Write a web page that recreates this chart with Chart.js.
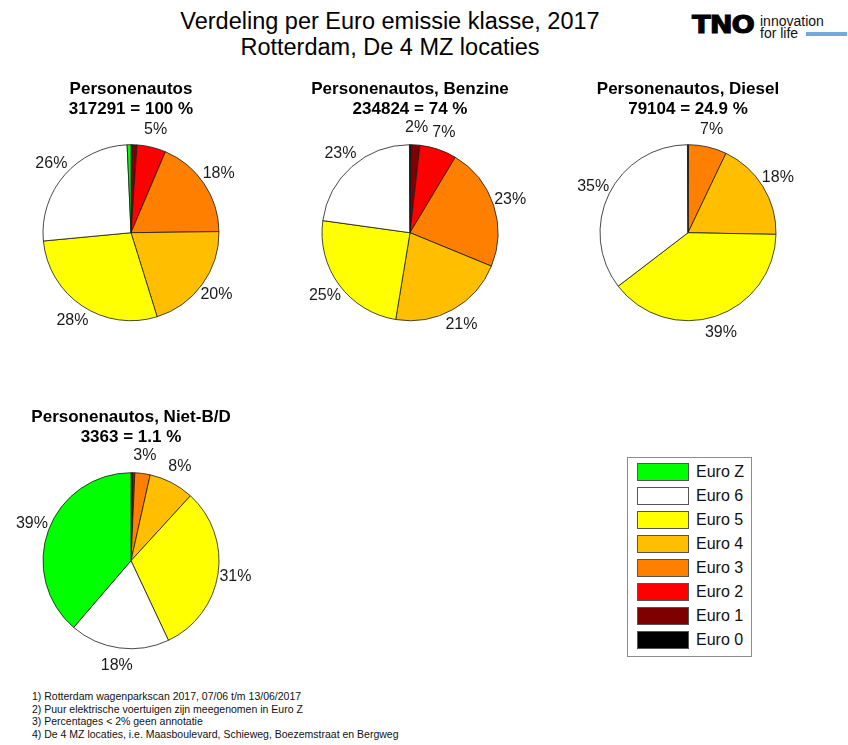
<!DOCTYPE html>
<html><head><meta charset="utf-8">
<script src="https://cdn.jsdelivr.net/npm/chart.js@4"></script>
<style>
body{margin:0;background:#fff;width:848px;height:745px;overflow:hidden;position:relative;font-family:"Liberation Sans",Arial,sans-serif;color:#000;}
.abs{position:absolute;}
canvas{display:block;}
#legend{left:627px;top:457px;width:123px;height:198px;border:1px solid #8c8c8c;background:#fff;}
.row{position:absolute;left:9px;height:18px;}
.sw{position:absolute;left:0;top:0;width:50px;height:16px;border:1px solid #555;}
.lt{position:absolute;left:59px;top:-1px;font-size:16px;line-height:20px;white-space:nowrap;color:#111;}
#notes{left:32px;top:690px;font-size:10.5px;line-height:12.5px;color:#111;white-space:nowrap;}
</style></head><body>
<div class="abs" style="left:0;width:780px;top:9px;text-align:center;font-size:23.5px;line-height:25.5px;white-space:nowrap">Verdeling per Euro emissie klasse, 2017<br>Rotterdam, De 4 MZ locaties</div>

<div class="abs" style="left:692px;top:9.5px;font-family:'DejaVu Sans',sans-serif;font-weight:bold;font-size:25px;letter-spacing:-1px;line-height:30px;-webkit-text-stroke:1px #000;transform:scaleX(1.1);transform-origin:0 0;">TNO</div>
<div class="abs" style="left:760px;top:14.5px;font-size:14px;line-height:12px;color:#111;white-space:nowrap">innovation<br>for life</div>
<div class="abs" style="left:806px;top:32px;width:41px;height:4px;background:#72a9dc"></div>

<div class="abs" style="left:0;top:78px"><canvas id="c0" width="262" height="269"></canvas></div>
<div class="abs" style="left:279px;top:78px"><canvas id="c1" width="262" height="269"></canvas></div>
<div class="abs" style="left:557px;top:78px"><canvas id="c2" width="262" height="269"></canvas></div>
<div class="abs" style="left:0;top:406px"><canvas id="c3" width="262" height="269"></canvas></div>

<div id="legend" class="abs"></div>
<div id="notes" class="abs"></div>

<script>
const categories = ['Euro 0','Euro 1','Euro 2','Euro 3','Euro 4','Euro 5','Euro 6','Euro Z'];
const colors = ['#000000','#7f0000','#ff0000','#ff8000','#ffbf00','#ffff00','#ffffff','#00ff00'];
const allCars = [0.2, 0.9, 5.3, 18.4, 20.4, 28.3, 25.8, 0.7];
const benzine = [0.2, 1.6, 6.8, 22.6, 21.4, 24.6, 22.7, 0.1];
const diesel  = [0.0, 0.0, 0.1, 7.0, 18.2, 39.3, 35.3, 0.1];
const nietBD  = [0.2, 0.2, 0.3, 2.8, 8.3, 31.2, 18.3, 38.7];
const panelNames = ['Personenautos','Personenautos, Benzine','Personenautos, Diesel','Personenautos, Niet-B/D'];
const panelCounts = ['317291','234824','79104','3363'];
const panelShares = ['100','74','24.9','1.1'];
const notes = [
  '1) Rotterdam wagenparkscan 2017, 07/06 t/m 13/06/2017',
  '2) Puur elektrische voertuigen zijn meegenomen in Euro Z',
  '3) Percentages < 2% geen annotatie',
  '4) De 4 MZ locaties, i.e. Maasboulevard, Schieweg, Boezemstraat en Bergweg'
];

const FONT = '"Liberation Sans", Arial, sans-serif';

const pctLabels = {
  id: 'pctLabels',
  afterDatasetsDraw(chart) {
    const ctx = chart.ctx;
    const ds = chart.data.datasets[0];
    const total = ds.data.reduce((a, b) => a + b, 0);
    const meta = chart.getDatasetMeta(0);
    ctx.save();
    ctx.font = '16px ' + FONT;
    ctx.fillStyle = '#1a1a1a';
    ctx.textAlign = 'center';
    ctx.textBaseline = 'middle';
    meta.data.forEach((arc, i) => {
      const r = Math.round(ds.data[i] / total * 100);
      if (r < 2) return;
      const p = arc.getProps(['x', 'y', 'startAngle', 'endAngle', 'outerRadius'], true);
      const mid = (p.startAngle + p.endAngle) / 2;
      const d = p.outerRadius * 1.2;
      ctx.fillText(r + '%', p.x + Math.cos(mid) * d, p.y + Math.sin(mid) * d);
    });
    ctx.restore();
  }
};

const series = [allCars, benzine, diesel, nietBD];
series.forEach((data, k) => {
  new Chart(document.getElementById('c' + k), {
    type: 'pie',
    data: {
      labels: categories,
      datasets: [{ data: data, backgroundColor: colors, borderColor: '#1a1a1a', borderWidth: 0.8, radius: 88 }]
    },
    options: {
      responsive: false,
      animation: false,
      events: [],
      layout: { padding: 0 },
      plugins: {
        legend: { display: false },
        tooltip: { enabled: false },
        title: {
          display: true,
          text: [panelNames[k], panelCounts[k] + ' = ' + panelShares[k] + ' %'],
          color: '#000',
          font: { family: FONT, size: 17, weight: 'bold', lineHeight: 1.13 },
          padding: { top: 2, bottom: 0 }
        }
      }
    },
    plugins: [pctLabels]
  });
});

const legend = document.getElementById('legend');
categories.slice().reverse().forEach((c, j) => {
  const idx = categories.indexOf(c);
  const row = document.createElement('div');
  row.className = 'row';
  row.style.top = (5 + j * 24) + 'px';
  row.innerHTML = '<div class="sw" style="background:' + colors[idx] + '"></div><div class="lt">' + c + '</div>';
  legend.appendChild(row);
});

const nEl = document.getElementById('notes');
notes.forEach(t => { const d = document.createElement('div'); d.textContent = t; nEl.appendChild(d); });
</script>
</body></html>
